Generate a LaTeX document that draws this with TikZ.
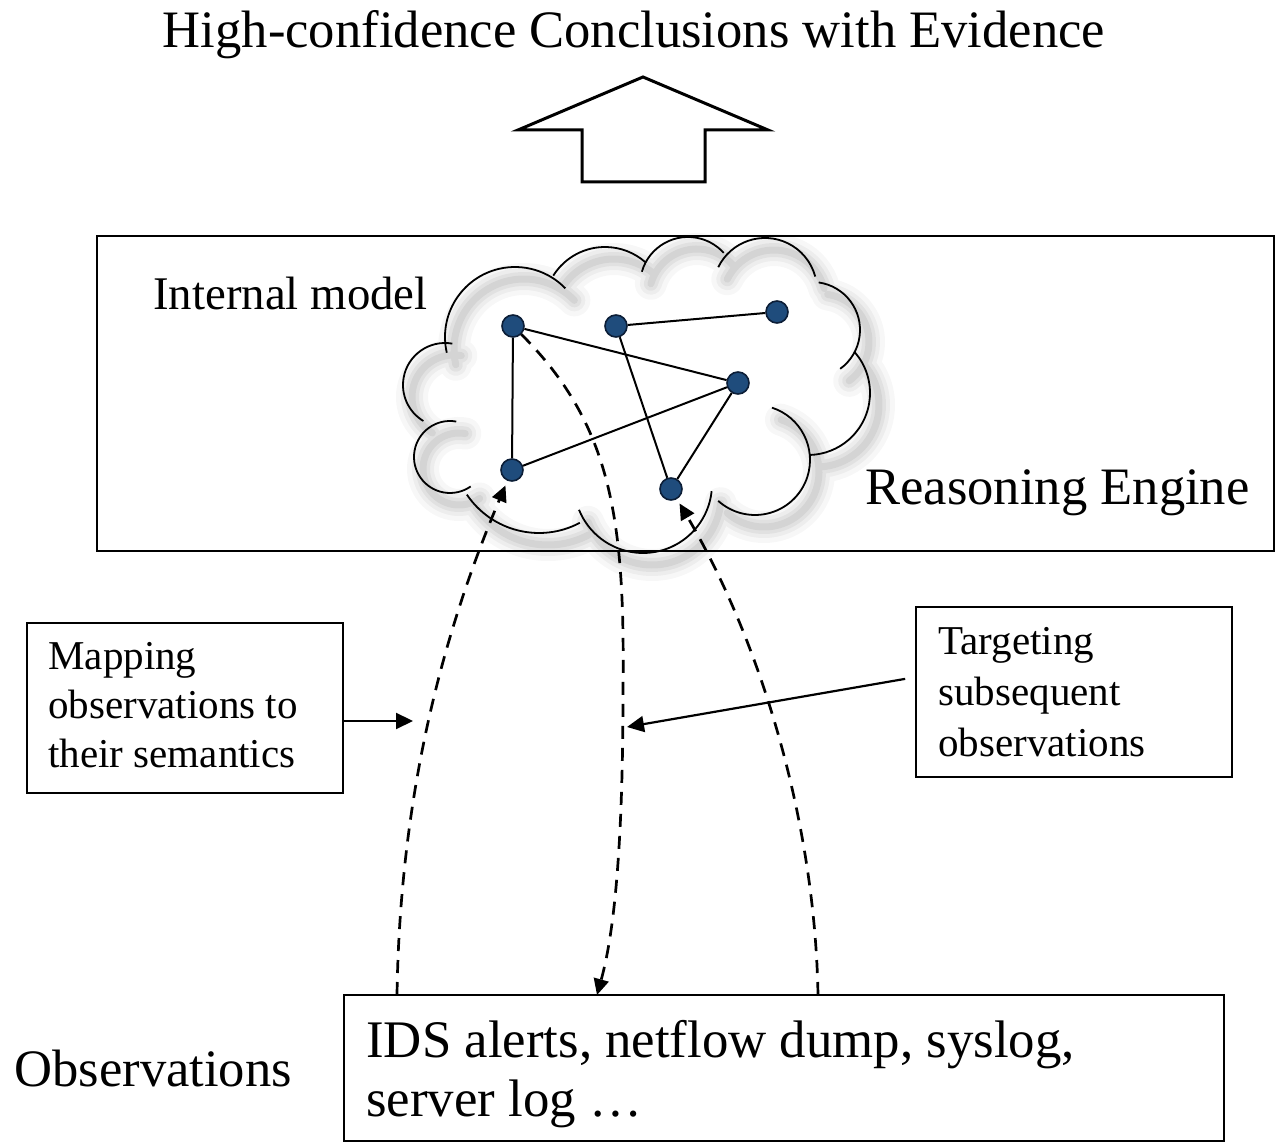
\documentclass[tikz,border=0pt]{standalone}
\usepackage{fontspec}
\setmainfont{Liberation Serif}
\usetikzlibrary{arrows.meta,fit,calc}

\definecolor{dotblue}{RGB}{31,76,124}
\definecolor{dotedge}{RGB}{12,30,55}

% outline of the cloud: one arc per puff (centre, radius, start/end angle)
\newcommand\cloudarcs{%
  (515,337) ++(167:70) arc[start angle=167,end angle=316,radius=70]
  (605,308) ++(212:61) arc[start angle=212,end angle=311,radius=61]
  (688,285) ++(196:48) arc[start angle=196,end angle=318,radius=48]
  (765,290) ++(206:52) arc[start angle=206,end angle=345,radius=52]
  (812,330) ++(-82:48) arc[start angle=-82,end angle=54,radius=48]
  (808,393) ++(-41:62) arc[start angle=-41,end angle=88,radius=62]
  (755,460) ++(-72:55) arc[start angle=-72,end angle=132,radius=55]
  (643,484) ++(6:69) arc[start angle=6,end angle=158,radius=69]
  (539,446) ++(146:87) arc[start angle=146,end angle=62,radius=87]
  (450,457) ++(-80:36) arc[start angle=-80,end angle=-305,radius=36]
  (445,385) ++(-80:42) arc[start angle=-80,end angle=-239,radius=42]
}

\begin{document}
\begin{tikzpicture}[x=0.5pt,y=-0.5pt,
  boxframe/.style={draw, line width=1.1pt, inner sep=0pt, outer sep=0pt},
  dot/.style={circle, fill=dotblue, draw=dotedge, line width=0.8pt, minimum size=11pt, inner sep=0pt},
  link/.style={line width=1pt},
  dashline/.style={line width=1.35pt, dash pattern=on 6.5pt off 4.5pt},
  tip/.style={-{Triangle[length=8pt,width=7.5pt]}},
  bigtext/.style={font=\fontsize{26.3}{31}\selectfont},
  smalltext/.style={font=\fontsize{20.5}{25}\selectfont}]

\useasboundingbox (0,0) rectangle (1276,1143);

% title and the hollow up arrow
\node[bigtext, anchor=base] (title) at (634,48) {High-confidence Conclusions with Evidence};
\draw[line width=1.5pt, line join=miter]
  (643,77) -- (768,130) -- (705,130) -- (705,182) -- (582,182) -- (582,130) -- (518,130) -- cycle;

% reasoning engine frame
\node[boxframe, fit={(97,236) (1274,551)}] (engine) {};
\node[font=\fontsize{23.4}{28}\selectfont, anchor=base west, inner sep=0pt] (intlabel) at (153,310) {Internal model};
\node[bigtext, anchor=base west, inner sep=0pt] (englabel) at (865,505) {Reasoning Engine};

% soft shadow of the cloud
\begin{scope}[shift={(9,12)}, line cap=round]
  \draw[line width=16pt, black, opacity=0.03] \cloudarcs;
  \draw[line width=11pt, black, opacity=0.04] \cloudarcs;
  \draw[line width=7pt, black, opacity=0.05] \cloudarcs;
  \draw[line width=3.5pt, black, opacity=0.06] \cloudarcs;
\end{scope}
% cloud outline
\draw[line width=0.9pt] \cloudarcs;

% internal model graph
\node[dot] (A) at (513,326) {};
\node[dot] (B) at (616,326) {};
\node[dot] (C) at (777,312) {};
\node[dot] (D) at (738,383) {};
\node[dot] (E) at (512,470) {};
\node[dot] (F) at (671,489) {};
\draw[link] (A) -- (D);
\draw[link] (A) -- (E);
\draw[link] (B) -- (C);
\draw[link] (B) -- (F);
\draw[link] (E) -- (D);
\draw[link] (D) -- (F);

% observations
\node[boxframe, fit={(344,995) (1224,1141)}] (obs) {};
\node[bigtext, anchor=base west, inner sep=0pt] (obstext) at (366,1058)
  {\fontsize{26.4}{29.5}\selectfont\begin{tabular}[t]{@{}l@{}}IDS alerts, netflow dump, syslog,\\ server log …\end{tabular}};
\node[bigtext, anchor=base west, inner sep=0pt] (obslabel) at (14,1087) {Observations};

\coordinate (o1) at (obs.north -| 397,0);
\coordinate (o2) at (obs.north -| 597,0);
\coordinate (o3) at (obs.north -| 818,0);

% mapping / targeting flows
\draw[dashline, tip, shorten >=2.5pt] (o1) .. controls (400,800) and (440,640) .. (E);
\draw[dashline, tip] (A) .. controls (612,425) and (625,520) .. (623,690)
  .. controls (623,840) and (615,930) .. (o2);
\draw[dashline, tip, shorten >=2.5pt] (o3) .. controls (815,820) and (760,640) .. (F);

% side notes
\node[boxframe, fit={(27,623) (343,793)}] (map) {};
\node[smalltext, anchor=base west, inner sep=0pt] (maptext) at (48,670)
  {\fontsize{20.5}{24.5}\selectfont\begin{tabular}[t]{@{}l@{}}Mapping\\ observations to\\ their semantics\end{tabular}};
\node[boxframe, fit={(916,607) (1232,777)}] (tgt) {};
\node[smalltext, anchor=base west, inner sep=0pt] (tgttext) at (938,655)
  {\fontsize{20.5}{25.3}\selectfont\begin{tabular}[t]{@{}l@{}}Targeting\\ subsequent\\ observations\end{tabular}};

\coordinate (m1) at (413,721);
\coordinate (t1) at (627,727);
\draw[line width=1.1pt, -{Triangle[length=8.5pt,width=8pt]}] (map.east |- m1) -- (m1);
\draw[line width=1.1pt, -{Triangle[length=8.5pt,width=8pt]}, shorten <=5.5pt] (tgt.west |- 0,677) -- (t1);

\end{tikzpicture}
\end{document}
